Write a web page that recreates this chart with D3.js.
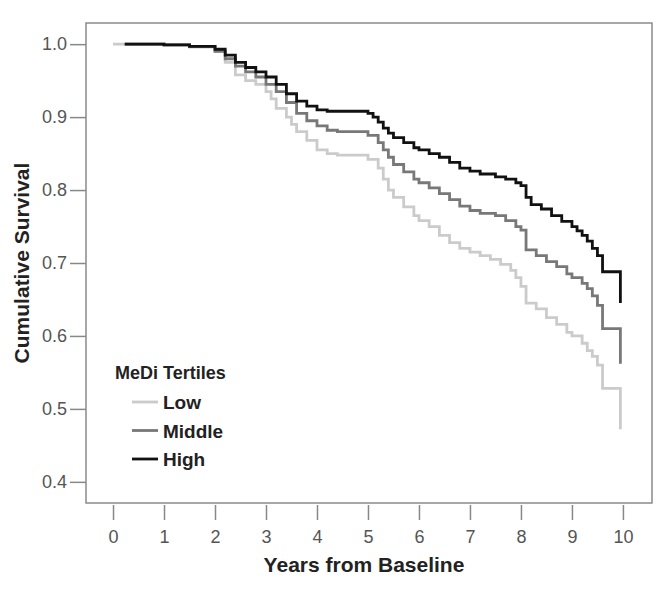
<!DOCTYPE html>
<html><head><meta charset="utf-8">
<script src="https://cdn.jsdelivr.net/npm/d3@7"></script>
<style>body{margin:0;background:#fff}svg{display:block}</style>
</head><body>
<svg id="c" width="663" height="591"></svg>
<script>
const xTicks=[0,1,2,3,4,5,6,7,8,9,10];
const yTicks=[0.4,0.5,0.6,0.7,0.8,0.9,1.0];
const seriesNames=["Low","Middle","High"];
const seriesColors=["#cbcbcb","#787878","#111111"];
const lowX=[0.0,1.0,1.5,2.0,2.2,2.4,2.6,2.8,3.0,3.1,3.2,3.4,3.5,3.6,3.8,4.0,4.2,4.4,4.8,5.0,5.2,5.3,5.4,5.5,5.7,5.9,6.0,6.2,6.4,6.6,6.8,7.0,7.2,7.4,7.6,7.8,7.9,8.0,8.1,8.3,8.5,8.7,8.9,9.0,9.2,9.3,9.4,9.5,9.6,9.95,9.95];
const lowY=[1.0,0.999,0.996,0.99,0.975,0.958,0.95,0.945,0.935,0.925,0.912,0.9,0.89,0.88,0.868,0.855,0.85,0.848,0.848,0.842,0.83,0.815,0.8,0.79,0.777,0.765,0.758,0.75,0.738,0.728,0.72,0.715,0.71,0.705,0.698,0.69,0.68,0.668,0.645,0.637,0.625,0.616,0.605,0.6,0.59,0.58,0.572,0.56,0.528,0.528,0.472];
const midX=[0.23,1.0,1.5,2.0,2.2,2.4,2.6,2.8,3.0,3.2,3.4,3.6,3.8,4.0,4.2,4.4,4.8,5.0,5.2,5.3,5.4,5.5,5.7,5.9,6.0,6.2,6.4,6.6,6.8,7.0,7.2,7.5,7.7,7.9,8.0,8.1,8.3,8.5,8.7,8.9,9.0,9.2,9.3,9.4,9.5,9.6,9.95,9.95];
const midY=[1.0,0.999,0.997,0.99,0.98,0.97,0.962,0.955,0.945,0.935,0.92,0.905,0.895,0.888,0.882,0.88,0.88,0.875,0.865,0.855,0.845,0.835,0.825,0.815,0.81,0.803,0.795,0.787,0.778,0.772,0.768,0.765,0.758,0.75,0.745,0.718,0.71,0.702,0.695,0.685,0.68,0.672,0.665,0.655,0.642,0.61,0.61,0.562];
const highX=[0.23,1.0,1.5,2.0,2.2,2.4,2.6,2.8,3.0,3.2,3.4,3.6,3.8,4.0,4.2,4.4,4.8,5.0,5.1,5.2,5.3,5.4,5.5,5.7,5.9,6.0,6.2,6.4,6.6,6.8,7.0,7.2,7.5,7.7,7.9,8.0,8.1,8.2,8.4,8.6,8.8,9.0,9.1,9.2,9.3,9.4,9.5,9.6,9.95,9.95];
const highY=[1.0,0.999,0.997,0.993,0.985,0.975,0.968,0.962,0.955,0.945,0.932,0.922,0.915,0.91,0.908,0.908,0.908,0.905,0.9,0.893,0.885,0.878,0.872,0.865,0.858,0.855,0.85,0.845,0.838,0.83,0.826,0.822,0.818,0.815,0.81,0.806,0.79,0.78,0.774,0.765,0.757,0.75,0.744,0.738,0.73,0.72,0.71,0.688,0.688,0.645];

const FONT="Liberation Sans, Arial, sans-serif";
const svg=d3.select("#c");
const L=86,R=652,T=23,B=503;
const x=d3.scaleLinear().domain([-0.53,10.57]).range([L,R]);
const y=d3.scaleLinear().domain([0.371,1.029]).range([B,T]);

svg.append("rect").attr("x",L).attr("y",T).attr("width",R-L).attr("height",B-T)
  .attr("fill","none").attr("stroke","#8a8a8a").attr("stroke-width",1.5);

const xa=svg.append("g").attr("transform",`translate(0,${B})`)
  .call(d3.axisBottom(x).tickValues(xTicks).tickSize(17).tickPadding(10).tickFormat(d3.format("d")));
xa.select(".domain").remove();
xa.selectAll("line").attr("stroke","#888").attr("stroke-width",1.5).attr("y1",2);
xa.selectAll("text").attr("fill","#555").style("font-family",FONT).style("font-size","18px");

const ya=svg.append("g").attr("transform",`translate(${L},0)`)
  .call(d3.axisLeft(y).tickValues(yTicks).tickSize(16).tickPadding(3).tickFormat(d3.format(".1f")));
ya.select(".domain").remove();
ya.selectAll("line").attr("stroke","#888").attr("stroke-width",1.5);
ya.selectAll("text").attr("fill","#555").style("font-family",FONT).style("font-size","18px");

const line=d3.line().x(d=>x(d[0])).y(d=>y(d[1])).curve(d3.curveStepAfter);
const data=[[lowX,lowY],[midX,midY],[highX,highY]];
data.forEach((s,i)=>{
  const pts=s[0].map((v,j)=>[v,s[1][j]]);
  svg.append("path").attr("d",line(pts)).attr("fill","none")
    .attr("stroke",seriesColors[i]).attr("stroke-width",2.8).attr("stroke-linejoin","miter");
});

svg.append("text").attr("x",(L+R)/2-5).attr("y",572).attr("text-anchor","middle")
  .style("font-family",FONT).style("font-weight","bold").style("font-size","21px")
  .attr("fill","#222").text("Years from Baseline");
svg.append("text").attr("transform",`translate(29,${(T+B)/2}) rotate(-90)`).attr("text-anchor","middle")
  .style("font-family",FONT).style("font-weight","bold").style("font-size","21px")
  .attr("fill","#222").text("Cumulative Survival");

const lg=svg.append("g");
lg.append("text").attr("x",115).attr("y",379).style("font-family",FONT)
  .style("font-weight","bold").style("font-size","18px").attr("fill","#222").text("MeDi Tertiles");
seriesNames.forEach((n,i)=>{
  const yy=402+i*28.5;
  lg.append("line").attr("x1",132).attr("x2",158).attr("y1",yy).attr("y2",yy)
    .attr("stroke",seriesColors[i]).attr("stroke-width",2.8);
  lg.append("text").attr("x",163).attr("y",yy+7).style("font-family",FONT)
    .style("font-weight","bold").style("font-size","19px").attr("fill","#222").text(n);
});
</script>
</body></html>
